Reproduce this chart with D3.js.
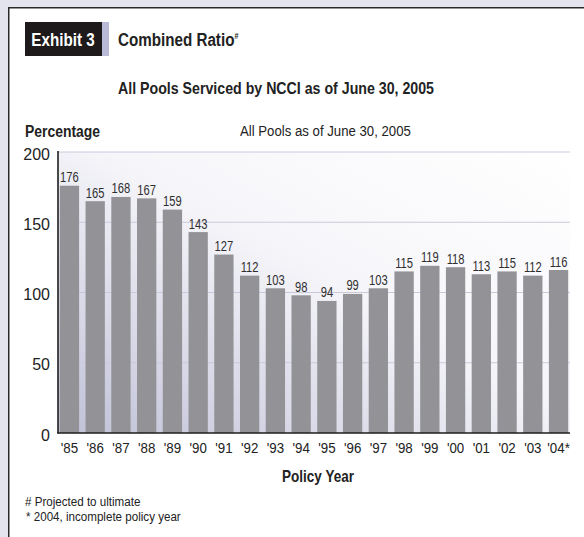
<!DOCTYPE html>
<html>
<head>
<meta charset="utf-8">
<script src="https://cdn.jsdelivr.net/npm/d3@7"></script>
<style>
  html, body { margin: 0; padding: 0; background: #e4e4ee; }
  svg { display: block; }
  text { font-family: "Liberation Sans", Arial, sans-serif; fill: #222; }
</style>
</head>
<body>
<svg id="chart" width="584" height="537"></svg>
<script>
// Policy years and their combined ratios (percent)
const years = ["'85","'86","'87","'88","'89","'90","'91","'92","'93","'94",
               "'95","'96","'97","'98","'99","'00","'01","'02","'03","'04*"];
const ratios = [176,165,168,167,159,143,127,112,103,98,
                94,99,103,115,119,118,113,115,112,116];
const yTicks = [0,50,100,150,200];

const data = years.map((y, i) => ({ year: y, value: ratios[i] }));

const svg = d3.select("#chart");

// Text drawn in a narrowed face (horizontal squeeze)
function label(x, y, str, size, opts = {}) {
  const t = svg.append("text")
    .attr("transform", `translate(${x},${y}) scale(${opts.sx || 0.82},1)`)
    .attr("text-anchor", opts.anchor || "start")
    .style("font-size", size + "px")
    .style("font-weight", opts.bold ? "bold" : "normal")
    .style("fill", opts.fill || "#222");
  if (str !== null) t.text(str);
  return t;
}

// Panel
svg.append("rect")
  .attr("x", 8.75).attr("y", 7.75)
  .attr("width", 584).attr("height", 540)
  .attr("fill", "#fff")
  .attr("stroke", "#2a2a2a").attr("stroke-width", 1.5);

// Header
svg.append("rect").attr("x", 25).attr("y", 22).attr("width", 77).attr("height", 34).attr("fill", "#1e1a1b");
svg.append("rect").attr("x", 102).attr("y", 22).attr("width", 7).attr("height", 34).attr("fill", "#b9bad6");
label(63, 46, "Exhibit 3", 19, { bold: true, anchor: "middle", fill: "#fff", sx: 0.8 });
const title = label(118, 46, null, 19, { bold: true, sx: 0.8 });
title.append("tspan").text("Combined Ratio");
title.append("tspan").attr("dy", -7).style("font-size", "9px").text("#");

label(118, 94, "All Pools Serviced by NCCI as of June 30, 2005", 16.5, { bold: true, sx: 0.86 });

label(25, 137, "Percentage", 17, { bold: true, sx: 0.82 });
label(240, 136, "All Pools as of June 30, 2005", 14.5, { sx: 0.91 });

// Scales
const x = d3.scaleBand().domain(years).range([58, 570]).paddingInner(0.25).paddingOuter(0.07);
const y = d3.scaleLinear().domain([0, 200]).range([433, 152]);

// Plot background gradient
const defs = svg.append("defs");
const grad = defs.append("linearGradient").attr("id", "plotBg")
  .attr("x1", "0").attr("y1", "1").attr("x2", "1").attr("y2", "0");
grad.append("stop").attr("offset", "0").attr("stop-color", "#c0c0d8");
grad.append("stop").attr("offset", "0.55").attr("stop-color", "#f6f6fa");
grad.append("stop").attr("offset", "1").attr("stop-color", "#ffffff");

svg.append("rect")
  .attr("x", 58).attr("y", y(200))
  .attr("width", 570 - 58).attr("height", y(0) - y(200))
  .attr("fill", "url(#plotBg)");

// Gridlines
svg.append("g").selectAll("line").data(yTicks.filter(d => d > 0)).join("line")
  .attr("x1", 58).attr("x2", 570)
  .attr("y1", d => y(d)).attr("y2", d => y(d))
  .attr("stroke", "#c9c9dd").attr("stroke-width", 1.2);

// Bars
svg.append("g").selectAll("rect").data(data).join("rect")
  .attr("x", d => x(d.year))
  .attr("y", d => y(d.value))
  .attr("width", x.bandwidth())
  .attr("height", d => y(0) - y(d.value))
  .attr("fill", "#939397");

// Value labels
svg.append("g").selectAll("text").data(data).join("text")
  .attr("transform", d => `translate(${x(d.year) + x.bandwidth() / 2},${y(d.value) - 3.5}) scale(0.8,1)`)
  .attr("text-anchor", "middle")
  .style("font-size", "14px").style("fill", "#2e2e2e")
  .text(d => d.value);

// Y axis
const yAxis = d3.axisLeft(y).tickValues(yTicks).tickSize(0).tickPadding(8);
const yg = svg.append("g").attr("transform", "translate(58,0)").call(yAxis);
yg.select(".domain").remove();
yg.selectAll("text").style("font-size", "16px").style("fill", "#222")
  .style("font-family", "'Liberation Sans', Arial, sans-serif")
  .attr("dy", "0.45em");

// X axis
const xAxis = d3.axisBottom(x).tickSize(0).tickPadding(9);
const xg = svg.append("g").attr("transform", `translate(0,${y(0)})`).call(xAxis);
xg.select(".domain").remove();
xg.selectAll("text").style("font-size", "15.5px").style("fill", "#222")
  .style("font-family", "'Liberation Sans', Arial, sans-serif")
  .attr("transform", "scale(0.86,1)");

// Axis lines
svg.append("line").attr("x1", 58).attr("x2", 58).attr("y1", y(200) - 1).attr("y2", y(0) + 0.5)
  .attr("stroke", "#1e1e1e").attr("stroke-width", 1.6);
svg.append("line").attr("x1", 57.2).attr("x2", 570).attr("y1", y(0)).attr("y2", y(0))
  .attr("stroke", "#1e1e1e").attr("stroke-width", 1.6);

label(318, 482, "Policy Year", 16.5, { bold: true, anchor: "middle", sx: 0.82 });

// Footnotes
label(25, 506, "# Projected to ultimate", 13.5, { sx: 0.86 });
label(26, 521, "* 2004, incomplete policy year", 13.5, { sx: 0.86 });
</script>
</body>
</html>
